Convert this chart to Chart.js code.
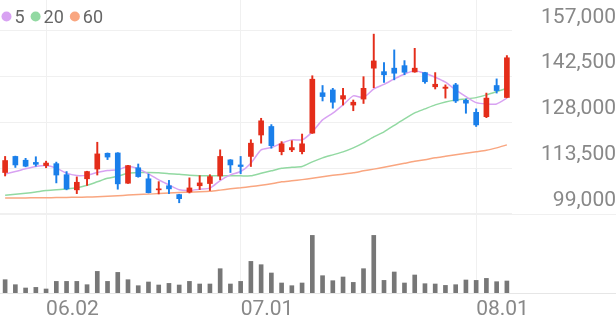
<!DOCTYPE html>
<html>
<head>
<meta charset="utf-8">
<script src="https://cdn.jsdelivr.net/npm/chart.js@4.4.1/dist/chart.umd.min.js"></script>
<style>
    html, body { margin: 0; padding: 0; background: #fff; }
    canvas { display: block; }
</style>
</head>
<body>
<canvas id="stockChart" width="616" height="321"></canvas>
<script>
// Trading days
const dates = [
    '05.27', '05.28', '05.29', '05.30', '06.02', '06.03', '06.04', '06.05', '06.07', '06.10',
    '06.11', '06.12', '06.13', '06.14', '06.17', '06.18', '06.19', '06.20', '06.21', '06.24',
    '06.25', '06.26', '06.27', '07.01', '07.02', '07.03', '07.04', '07.05', '07.08', '07.09',
    '07.10', '07.11', '07.12', '07.15', '07.16', '07.17', '07.18', '07.19', '07.22', '07.23',
    '07.24', '07.25', '07.26', '07.29', '07.30', '07.31', '08.01', '08.02', '08.05', '08.06'
];

// Daily prices
const openPrices = [
    112100, 117200, 116000, 115300, 114300, 114900, 111400, 106600, 110100, 113200,
    118200, 118300, 108700, 113600, 110100, 106600, 107900, 105100, 105900, 107900,
    108600, 111000, 116100, 114500, 117200, 124000, 126700, 118700, 119300, 118700,
    124600, 137400, 138300, 135400, 133500, 135400, 145200, 144100, 145200, 146000,
    144000, 143800, 139300, 138800, 139900, 135000, 131200, 129800, 139700, 135900
];
const highPrices = [
    117200, 117300, 116600, 117100, 115700, 115400, 112400, 110700, 112500, 121700,
    118300, 118400, 114400, 114800, 111600, 109200, 109600, 105200, 110400, 111100,
    111400, 119300, 116200, 117200, 122500, 129300, 127300, 121900, 122200, 124300,
    142800, 139700, 138800, 138800, 135100, 142500, 156000, 147000, 151000, 147600,
    151500, 143900, 143800, 139900, 140400, 135400, 132300, 137300, 141800, 149200
];
const lowPrices = [
    111000, 113700, 113900, 114100, 113600, 108800, 106600, 105400, 108000, 111300,
    116200, 106800, 108600, 110600, 105600, 105300, 105400, 102500, 105600, 106700,
    106400, 109800, 112100, 111700, 114000, 121400, 119800, 117700, 118700, 118000,
    124500, 134800, 132500, 133500, 131700, 134000, 139000, 140700, 141500, 143100,
    143900, 140400, 138600, 135700, 134300, 130900, 126700, 129500, 137300, 135800
];
const closePrices = [
    115900, 114500, 114100, 114700, 115100, 111300, 106900, 109000, 112400, 118000,
    117000, 108500, 114300, 110800, 105700, 106900, 106900, 103800, 107200, 108800,
    110800, 117200, 114500, 114000, 121400, 128500, 120600, 121200, 120000, 121200,
    141700, 136200, 134400, 136500, 134400, 138800, 147500, 143100, 143600, 143900,
    145200, 140900, 140100, 139200, 134800, 134100, 127200, 135700, 138100, 148500
];

// Moving averages as drawn
const ma5 = [
    111580, 112410, 113260, 113990, 114310, 113480, 111900, 111140, 111270, 112090,
    112720, 112950, 113990, 113260, 111680, 109780, 108190, 106610, 106390, 106770,
    107150, 109550, 111360, 112410, 115070, 119280, 120010, 121410, 122450, 122450,
    124990, 128790, 130920, 133550, 136400, 135920, 138620, 140040, 141790, 143370,
    144420, 143590, 142330, 140740, 138300, 136180, 134280, 133860, 133860, 135670
];
const ma20 = [
    104860, 105180, 105500, 105910, 106390, 106610, 106860, 107240, 108030, 109140,
    110250, 110890, 111840, 112090, 112090, 112000, 111680, 111520, 111200, 111040,
    111040, 111040, 111040, 111040, 111040, 111840, 112630, 113420, 113740, 114000,
    115480, 116750, 117700, 118650, 119920, 121500, 123400, 124990, 127050, 129110,
    131010, 132280, 133550, 134500, 135130, 135450, 135860, 136720, 137760, 138840
];
const ma60 = [
    103980, 104010, 104040, 104070, 104100, 104130, 104200, 104230, 104290, 104390,
    104550, 104710, 104930, 105090, 105240, 105400, 105560, 105720, 105880, 105970,
    106130, 106510, 106920, 107240, 107650, 108030, 108510, 109140, 109460, 109840,
    110250, 110730, 111200, 111580, 112000, 112630, 113170, 113740, 114370, 115010,
    115640, 116120, 116750, 117220, 117700, 118180, 118650, 119130, 119920, 120870
];

// Volume (shares)
const volumes = [
    133000, 83000, 50000, 56000, 40000, 116000, 116000, 116000, 83000, 216000,
    116000, 206000, 133000, 73000, 110000, 80000, 96000, 80000, 116000, 90000,
    90000, 243000, 90000, 116000, 316000, 283000, 200000, 100000, 73000, 100000,
    576000, 173000, 123000, 160000, 106000, 243000, 576000, 126000, 210000, 100000,
    180000, 93000, 90000, 76000, 83000, 130000, 126000, 146000, 113000, 120000
];

const priceTicks = [99000, 113500, 128000, 142500, 157000];
const dateTicks = ['06.02', '07.01', '08.01'];

const UP = '#e42d1a';
const DOWN = '#1a7fea';
const candleColors = openPrices.map((o, i) => closePrices[i] >= o ? UP : DOWN);

// legend drawn in the top-left corner
const maLegendPlugin = {
    id: 'maLegend',
    afterDraw: (chart) => {
        const ctx = chart.ctx;
        ctx.save();
        ctx.font = '18px Roboto';
        ctx.textBaseline = 'alphabetic';
        let x = 1.5;
        chart.data.datasets.forEach((ds) => {
            if (ds.type !== 'line') return;
            ctx.fillStyle = ds.borderColor;
            ctx.beginPath();
            ctx.arc(x + 5, 16.5, 5, 0, Math.PI * 2);
            ctx.fill();
            x += 13;
            ctx.fillStyle = '#666';
            ctx.fillText(ds.label, x, 22.5);
            x += ctx.measureText(ds.label).width + 6;
        });
        ctx.restore();
    }
};

// full-width separators: bottom of price panel and volume baseline
const separatorPlugin = {
    id: 'separators',
    beforeDatasetsDraw: (chart) => {
        const ctx = chart.ctx;
        const yPrice = Math.round(chart.scales.y.getPixelForValue(priceTicks[0])) + 0.5;
        const yBase = Math.round(chart.scales.vol.getPixelForValue(0)) + 0.5;
        ctx.save();
        ctx.lineWidth = 1;
        ctx.strokeStyle = '#f0f0f0';
        ctx.beginPath();
        ctx.moveTo(0, yPrice);
        ctx.lineTo(chart.width, yPrice);
        ctx.stroke();
        ctx.strokeStyle = '#e6e6e6';
        ctx.beginPath();
        ctx.moveTo(0, yBase);
        ctx.lineTo(chart.width, yBase);
        ctx.stroke();
        ctx.restore();
    }
};

const ctx = document.getElementById('stockChart').getContext('2d');
const stockChart = new Chart(ctx, {
    type: 'bar',
    data: {
        labels: dates,
        datasets: [
            {
                type: 'line',
                label: '5',
                data: ma5,
                borderColor: '#d8a2f2',
                borderWidth: 1.5,
                pointRadius: 0,
                tension: 0.2,
                yAxisID: 'y',
                order: 2
            },
            {
                type: 'line',
                label: '20',
                data: ma20,
                borderColor: '#92d9a2',
                borderWidth: 1.5,
                pointRadius: 0,
                tension: 0.2,
                yAxisID: 'y',
                order: 2
            },
            {
                type: 'line',
                label: '60',
                data: ma60,
                borderColor: '#f9a680',
                borderWidth: 1.5,
                pointRadius: 0,
                tension: 0.2,
                yAxisID: 'y',
                order: 2
            },
            {
                label: 'wick',
                data: lowPrices.map((l, i) => [l, highPrices[i]]),
                backgroundColor: candleColors,
                barThickness: 1.3,
                grouped: false,
                yAxisID: 'y',
                order: 1
            },
            {
                label: 'body',
                data: openPrices.map((o, i) => [o, closePrices[i]]),
                backgroundColor: candleColors,
                barThickness: 5,
                minBarLength: 1,
                grouped: false,
                yAxisID: 'y',
                order: 0
            },
            {
                label: 'volume',
                data: volumes,
                backgroundColor: '#777777',
                barThickness: 4,
                grouped: false,
                yAxisID: 'vol',
                order: 3
            }
        ]
    },
    options: {
        responsive: false,
        animation: false,
        events: [],
        layout: { padding: 0 },
        plugins: {
            legend: { display: false },
            tooltip: { enabled: false }
        },
        scales: {
            x: {
                offset: true,
                afterBuildTicks: (scale) => {
                    scale.ticks = scale.ticks.filter(t => dateTicks.includes(dates[t.value]));
                },
                afterFit: (scale) => {
                    scale.height = 28;
                    scale.paddingLeft = 0;
                    scale.paddingRight = 0;
                },
                grid: {
                    offset: false,
                    color: '#f0f0f0',
                    drawTicks: false
                },
                border: { display: false },
                ticks: {
                    autoSkip: false,
                    maxRotation: 0,
                    align: 'start',
                    padding: 4,
                    color: '#888',
                    font: { family: 'Roboto', size: 21 }
                }
            },
            y: {
                position: 'right',
                min: 73870,
                max: 166830,
                afterBuildTicks: (scale) => {
                    scale.ticks = priceTicks.map(v => ({ value: v }));
                },
                afterFit: (scale) => {
                    scale.width = 104;
                    scale.paddingTop = 0;
                    scale.paddingBottom = 0;
                },
                grid: {
                    color: '#f0f0f0',
                    drawTicks: false
                },
                border: { display: false },
                ticks: {
                    crossAlign: 'far',
                    padding: 23,
                    labelOffset: -13.5,
                    color: '#888',
                    font: { family: 'Roboto', size: 21 },
                    callback: (v) => v.toLocaleString('en-US')
                }
            },
            vol: {
                display: false,
                min: 0,
                max: 2930000
            }
        }
    },
    plugins: [separatorPlugin, maLegendPlugin]
});
</script>
</body>
</html>
